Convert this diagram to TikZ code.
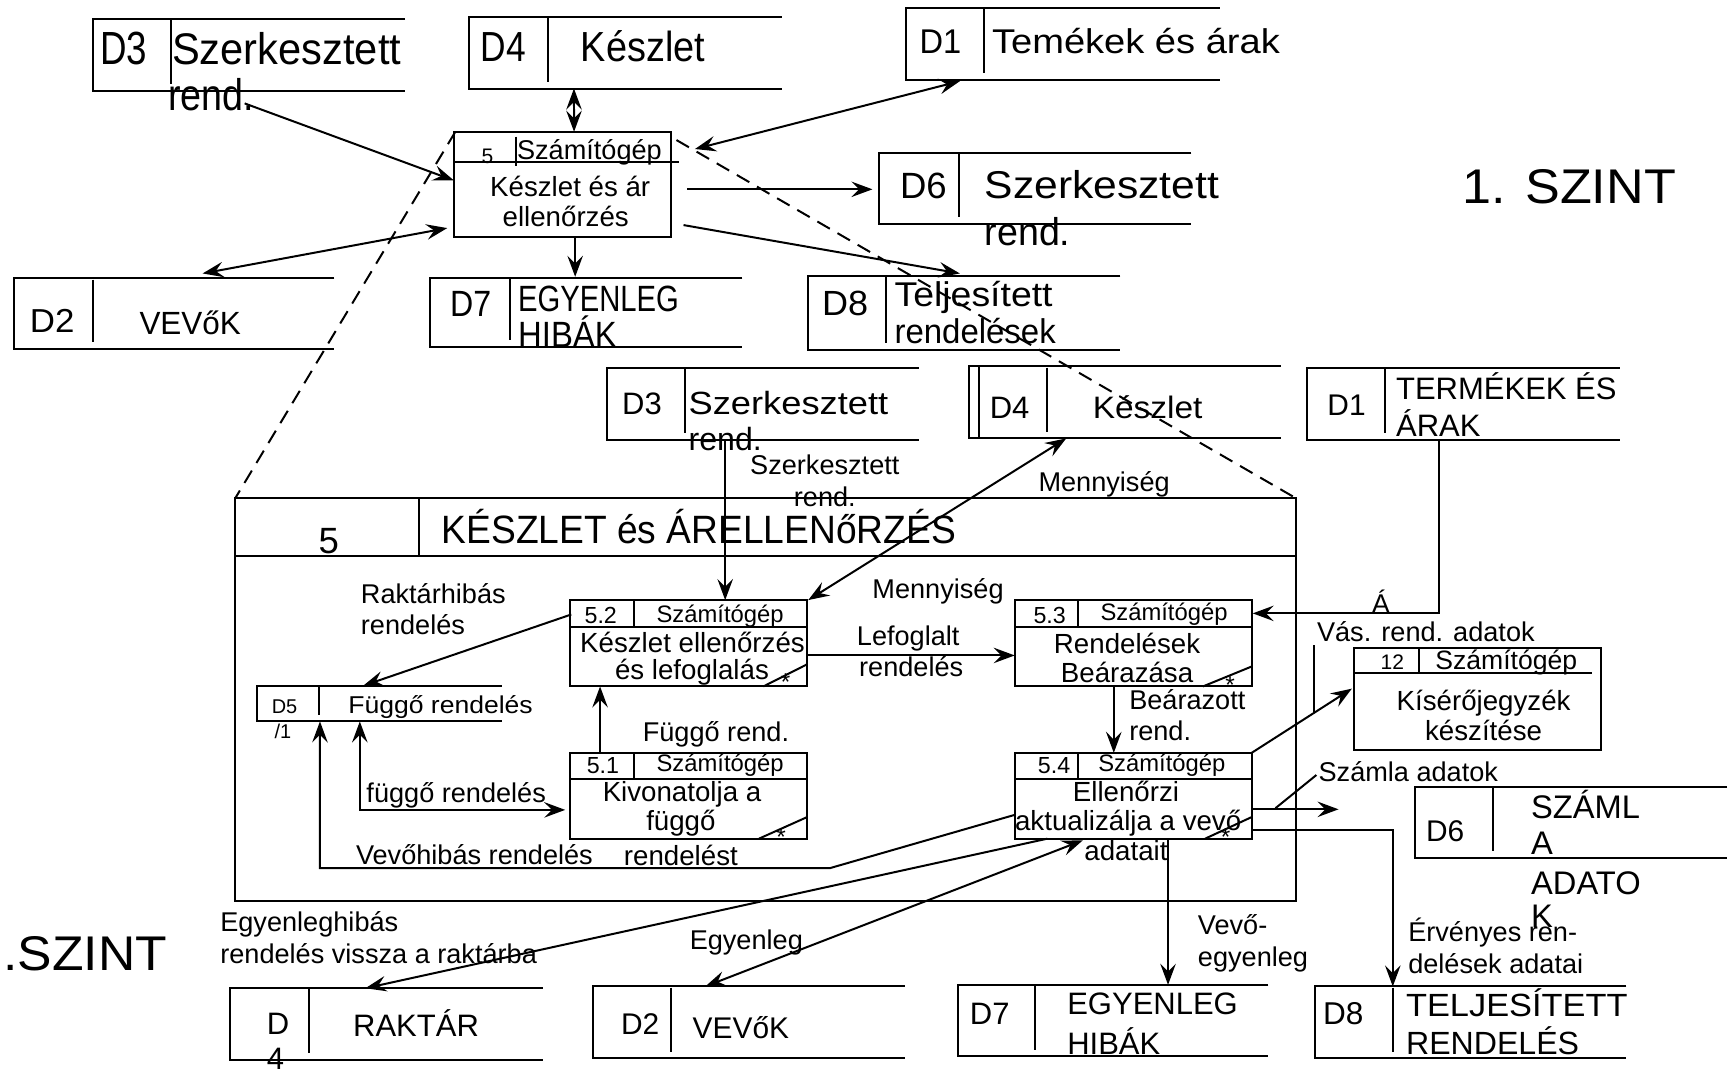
\documentclass[tikz,border=0pt]{standalone}
\usepackage{fontspec}
\setmainfont{Liberation Sans}
\usepackage{graphicx}
\usetikzlibrary{arrows.meta,fit}
\newcommand\tx[3]{\fontsize{#1}{#1}\selectfont\scalebox{#2}[1]{#3}}
\newcommand\dstore[6]{%
  \node[fit={(#2,#3)(#4,#5)},inner sep=0pt,outer sep=0pt] (#1) {};
  \draw[ln] (#4,#3) -- (#2,#3) -- (#2,#5) -- (#4,#5);
  \draw[ln] (#6,{#3+1}) -- (#6,{#5-6});
}
\newcommand\dproc[7]{%
  \node[draw,ln,fit={(#2,#3)(#4,#5)},inner sep=0pt,outer sep=0pt] (#1) {};
  \draw[ln] (#2,#6) -- (#4,#6) (#7,#3) -- (#7,#6);
}
\begin{document}
\begin{tikzpicture}[x=1pt,y=-1pt,
  ln/.style={line width=1.8pt},
  >={Stealth[length=19pt,width=14pt,inset=7pt]},
  arr/.style={ln,->},
  darr/.style={ln,<->},
  dashln/.style={line width=1.8pt,dash pattern=on 13pt off 8pt},
  txt/.style={inner sep=0pt,outer sep=0pt,anchor=base west},
  ctx/.style={inner sep=0pt,outer sep=0pt,anchor=base},
  lbl/.style={txt,font=\fontsize{24.5}{24.5}\selectfont},
  body/.style={ctx,font=\fontsize{25}{25}\selectfont},
  hd/.style={txt,font=\fontsize{21.5}{21.5}\selectfont},
  cd/.style={txt,font=\fontsize{21}{21}\selectfont},
  st/.style={inner sep=0pt,outer sep=0pt,font=\fontsize{22}{22}\selectfont}]
\fill[white] (0,0) rectangle (1568,969);
\useasboundingbox (0,0) rectangle (1568,969);

% ================= TOP LEVEL =================
\dstore{d3t}{83.6}{17}{366}{82}{154.5}
\dstore{d4t}{423.4}{15.7}{706}{80}{495}
\dstore{d1t}{818.5}{7.5}{1101.5}{72.3}{889}
\dstore{d6t}{794}{138.5}{1076}{202.4}{866}
\dstore{d2t}{13}{251.5}{302}{314.8}{83.6}
\dstore{d7t}{388.8}{251.4}{670.5}{313.2}{460.6}
\dstore{d8t}{730}{249.4}{1012}{315.7}{800.5}

\node[draw,ln,fit={(410,119)(606,213.8)},inner sep=0pt,outer sep=0pt] (p5) {};
\draw[ln] (410,146.6) -- (613,146.6) (466,123.4) -- (466,150);

\node[txt] (t1) at (90.6,58.7) {\tx{42}{.79}{D3}};
\node[txt] (t2) at (155.5,58.7) {\tx{40}{.94}{Szerkesztett}};
\node[txt] (t3) at (152,99.4) {\tx{40}{.85}{rend.}};
\node[txt] (t4) at (434,55.7) {\tx{38}{.84}{D4}};
\node[txt] (t5) at (524.7,55.7) {\tx{38}{.9}{Készlet}};
\node[txt] (t6) at (830.6,48) {\tx{31}{.95}{D1}};
\node[txt] (t7) at (896,48) {\tx{31}{1.11}{Temékek és árak}};
\node[txt] (t8) at (813,179) {\tx{33}{1}{D6}};
\node[txt] (t9) at (889.4,179) {\tx{35}{1.1}{Szerkesztett}};
\node[txt] (t10) at (889.4,221.4) {\tx{35}{.97}{rend.}};
\node[txt] (t11) at (27,300) {\tx{30}{1.05}{D2}};
\node[txt] (t12) at (126,302) {\tx{29}{.98}{VEVőK}};
\node[txt] (t13) at (406.6,286) {\tx{33}{.88}{D7}};
\node[txt] (t14) at (468,281) {\tx{33}{.8}{EGYENLEG}};
\node[txt] (t15) at (468,314) {\tx{33}{.9}{HIBÁK}};
\node[txt] (t16) at (742.5,284.6) {\tx{31.6}{1.03}{D8}};
\node[txt] (t17) at (808,276.5) {\tx{31}{1.09}{Teljesített}};
\node[txt] (t18) at (808,310) {\tx{31}{.96}{rendelések}};
\node[txt] (t19) at (435,147.5) {\tx{19}{1}{5}};
\node[txt] (t20) at (467,144.5) {\tx{24.5}{1}{Számítógép}};
\node[body] (t21) at (515,177.6) {Készlet és ár};
\node[body] (t22) at (511,204.7) {ellenőrzés};
\node[txt] (t23) at (1321,183.7) {\tx{44}{1.07}{1. SZINT}};

% ================= LEVEL 2 FRAME =================
\node[draw,ln,fit={(212.5,450)(1170.5,814)},inner sep=0pt,outer sep=0pt] (big) {};
\draw[ln] (212.5,502) -- (1170.5,502) (378,450) -- (378,502);
\node[ctx] (t30) at (297,500) {\tx{33}{1}{5}};
\node[txt] (t31) at (399,490.7) {\tx{35.7}{.94}{KÉSZLET és ÁRELLENőRZÉS}};

% top-level connectors
\draw[arr] ([shift={(137.4,11.4)}]d3t.south west) -- ([shift={(0,44)}]p5.north west);
\draw[darr] ([shift={(95,0)}]d4t.south west) -- ([shift={(108.5,0)}]p5.north west);
\draw[darr] ([shift={(48.5,1)}]d1t.south west) -- ([shift={(21.7,15.6)}]p5.north east);
\draw[arr] ([shift={(14.8,52)}]p5.north east) -- ([shift={(-6,32.5)}]d6t.north west);
\draw[arr] ([shift={(11.4,84.3)}]p5.north east) -- ([shift={(137,-2.4)}]d8t.north west);
\draw[arr] ([shift={(109.5,0)}]p5.south west) -- ([shift={(130.7,-1.4)}]d7t.north west);
\draw[darr] ([shift={(170,-4.5)}]d2t.north west) -- ([shift={(-6,-7.8)}]p5.south west);
\draw[dashln] ([shift={(1.3,0)}]p5.north west) -- (big.north west);
\draw[dashln] ([shift={(5,7.5)}]p5.north east) -- (big.north east);

% ================= LEVEL 2 STORES =================
\dstore{d3m}{548}{332.5}{830}{397}{618.5}
\dstore{d4m}{875}{331}{1157}{396}{945.4}
\draw[ln] (884,331) -- (884,396);
\dstore{d1m}{1180.6}{332.5}{1463}{397}{1251}
\dstore{d5}{231.7}{619.4}{453}{651.6}{288}
\dstore{d6m}{1278}{711}{1560}{775}{1348.5}
\dstore{d4b}{207.7}{892.6}{490}{957}{278.7}
\dstore{d2b}{536}{891}{817}{956}{606}
\dstore{d7b}{865}{889.5}{1145.6}{954}{935}
\dstore{d8b}{1187.7}{891}{1469}{955.8}{1258}

\node[txt] (s1) at (562,374.7) {\tx{28}{1}{D3}};
\node[txt] (s2) at (622,374.7) {\tx{29}{1.13}{Szerkesztett}};
\node[txt] (s3) at (622,407) {\tx{29}{1}{rend.}};
\node[txt] (s4) at (894,378) {\tx{28}{1}{D4}};
\node[txt] (s5) at (987,378) {\tx{28}{1.08}{Készlet}};
\node[txt] (s6) at (1199,375) {\tx{27}{1}{D1}};
\node[txt] (s7) at (1261,361) {\tx{28}{1}{TERMÉKEK ÉS}};
\node[txt] (s8) at (1261,394) {\tx{28}{1}{ÁRAK}};
\node[txt] (s9) at (245.5,644) {\tx{18}{1}{D5}};
\node[txt] (s10) at (314.6,644) {\tx{22}{1.09}{Függő rendelés}};
\node[txt] (s11) at (248,666.7) {\tx{18}{1}{/1}};
\node[txt] (s12) at (1288,760) {\tx{27}{1}{D6}};
\node[txt] (s13) at (1383,739) {\tx{29.5}{1}{SZÁML}};
\node[txt] (s14) at (1383,772) {\tx{29.5}{1}{A}};
\node[txt] (s15) at (1383,808) {\tx{29.5}{1}{ADATO}};
\node[txt] (s16) at (1383,838) {\tx{29.5}{1}{K}};
\node[txt] (s17) at (241,934.8) {\tx{28}{1}{D}};
\node[txt] (s18) at (241,966) {\tx{28}{1}{4}};
\node[txt] (s19) at (319,936) {\tx{28}{1}{RAKTÁR}};
\node[txt] (s20) at (561,934.8) {\tx{27}{1}{D2}};
\node[txt] (s21) at (625.7,938) {\tx{27}{1}{VEVőK}};
\node[txt] (s22) at (876,925.7) {\tx{28}{1}{D7}};
\node[txt] (s23) at (964,916.6) {\tx{28}{1}{EGYENLEG}};
\node[txt] (s24) at (964,952.8) {\tx{28}{1}{HIBÁK}};
\node[txt] (s25) at (1195,925.7) {\tx{28.5}{1}{D8}};
\node[txt] (s26) at (1270,918) {\tx{29}{1.07}{TELJESÍTETT}};
\node[txt] (s27) at (1270,952.8) {\tx{29}{1}{RENDELÉS}};
\node[txt] (s28) at (3,876.4) {\tx{44}{1.06}{.SZINT}};

% ================= LEVEL 2 PROCESSES =================
\dproc{p52}{515}{542}{729}{620}{566}{572.5}
\dproc{p53}{916.5}{542}{1130.5}{620}{566}{974}
\dproc{p51}{515}{680}{729}{757.5}{704}{572.5}
\dproc{p54}{916.5}{680}{1130.5}{757.5}{704}{974}
\node[draw,ln,fit={(1222.7,585.7)(1445.6,677.6)},inner sep=0pt,outer sep=0pt] (p12) {};
\draw[ln] (1222.7,608) -- (1438,608) (1281.5,585.7) -- (1281.5,608);

\draw[ln] ([shift={(-39.5,0)}]p52.south east) -- ([shift={(0,-20)}]p52.south east);
\draw[ln] ([shift={(-44,0)}]p53.south east) -- ([shift={(0,-18)}]p53.south east);
\draw[ln] ([shift={(-43.5,0)}]p51.south east) -- ([shift={(0,-19.5)}]p51.south east);
\draw[ln] ([shift={(-42,0)}]p54.south east) -- ([shift={(0,-19.5)}]p54.south east);
\node[st] (a1) at (709.6,616) {*};
\node[st] (a2) at (1111,619) {*};
\node[st] (a3) at (705.6,756) {*};
\node[st] (a4) at (1107,756) {*};

\node[cd] (q1) at (528,563) {5.2};
\node[hd] (q2) at (593,562) {Számítógép};
\node[body] (q3) at (625.5,589) {Készlet ellenőrzés};
\node[body] (q4) at (625,614) {és lefoglalás};
\node[cd] (q5) at (933.5,563) {5.3};
\node[hd] (q6) at (994,560) {Számítógép};
\node[body] (q7) at (1018,590) {Rendelések};
\node[body] (q8) at (1018,616) {Beárazása};
\node[cd] (q9) at (530,699) {5.1};
\node[hd] (q10) at (593,697) {Számítógép};
\node[body] (q11) at (616,724) {Kivonatolja a};
\node[body] (q12) at (615,750) {függő};
\node[body] (q13) at (615,781.6) {rendelést};
\node[cd] (q14) at (937.5,699) {5.4};
\node[hd] (q15) at (992,697) {Számítógép};
\node[body] (q16) at (1017,724) {Ellenőrzi};
\node[body] (q17) at (1019,750) {aktualizálja a vevő};
\node[body] (q18) at (1017,777) {adatait};
\node[txt] (q19) at (1247,605) {\tx{19}{1}{12}};
\node[txt] (q20) at (1296.5,605) {\tx{24}{1}{Számítógép}};
\node[body] (q21) at (1340,641.5) {Kísérőjegyzék};
\node[body] (q22) at (1340,668.6) {készítése};

% labels
\node[ctx,font=\fontsize{24.5}{24.5}\selectfont] (l1) at (745,429) {Szerkesztett};
\node[ctx,font=\fontsize{24.5}{24.5}\selectfont] (l2) at (745,457.5) {rend.};
\node[lbl] (l3) at (938,444) {Mennyiség};
\node[lbl] (l4) at (788,541) {Mennyiség};
\node[lbl] (l5) at (326,545) {Raktárhibás};
\node[lbl] (l6) at (326,573) {rendelés};
\node[lbl] (l7) at (774,583) {Lefoglalt};
\node[lbl] (l8) at (776,611) {rendelés};
\node[lbl] (l9) at (580.6,670) {Függő rend.};
\node[lbl] (l10) at (331,725) {függő rendelés};
\node[lbl] (l11) at (321.6,781) {Vevőhibás rendelés};
\node[lbl] (l12) at (1020,641) {Beárazott};
\node[lbl] (l13) at (1020,668.6) {rend.};
\node[lbl] (l14) at (1239,554) {Á};
\node[lbl] (l15) at (1189.6,579.7) {Vás. rend. adatok};
\node[lbl] (l16) at (1191,706) {Számla adatok};
\node[lbl] (l17) at (1082,844) {Vevő-};
\node[lbl] (l18) at (1082,873) {egyenleg};
\node[lbl] (l19) at (1272,850) {Érvényes ren-};
\node[lbl] (l20) at (1272,879) {delések adatai};
\node[lbl] (l21) at (199,841.4) {Egyenleghibás};
\node[lbl] (l22) at (199,870) {rendelés vissza a raktárba};
\node[lbl] (l23) at (623,858) {Egyenleg};

% level-2 connectors
\draw[arr] ([shift={(107,0)}]d3m.south west) -- ([shift={(140,0)}]p52.north west);
\draw[darr] ([shift={(88,0)}]d4m.south west) -- ([shift={(1,0)}]p52.north east);
\draw[arr] ([shift={(1,13)}]p52.north west) -- ([shift={(96.3,0)}]d5.north west);
\draw[arr] ([shift={(0,50)}]p52.north east) -- ([shift={(0,50)}]p53.north west);
\draw[arr] ([shift={(27,0)}]p51.north west) -- ([shift={(27,0)}]p52.south west);
\draw[darr] ([shift={(93.3,0)}]d5.south west) |- ([shift={(-4.5,51.5)}]p51.north west);
\draw[arr] ([shift={(0,56)}]p54.north west) -- ++(-166.5,48) -| ([shift={(57.3,0)}]d5.south west);
\draw[arr] ([shift={(89.5,0)}]p53.south west) -- ([shift={(89.5,0)}]p54.north west);
\draw[arr] ([shift={(118.9,0)}]d1m.south west) |- ([shift={(1,12)}]p53.north east);
\draw[arr] (p54.north east) -- ([shift={(-1.7,36.3)}]p12.north west);
\draw[arr] ([shift={(0,51)}]p54.north east) -- ++(78.5,0) coordinate (szend);
\draw[arr] ([shift={(0,70)}]p54.north east) -| ([shift={(70.3,0)}]d8b.north west);
\draw[arr] ([shift={(138.5,0)}]p54.south west) -- ([shift={(190,0)}]d7b.north west);
\draw[arr] ([shift={(29.5,0)}]p54.south west) -- ([shift={(122.3,0)}]d4b.north west);
\draw[darr] ([shift={(101,0)}]d2b.north west) -- ([shift={(61.5,1.5)}]p54.south west);
\draw[ln] ([shift={(-36,-2.7)}]p12.north west) -- ([shift={(-36,57.3)}]p12.north west);
\draw[ln] ([shift={(21.5,50)}]p54.north east) -- ([shift={(-2,-6)}]l16.base west);
\end{tikzpicture}
\end{document}
